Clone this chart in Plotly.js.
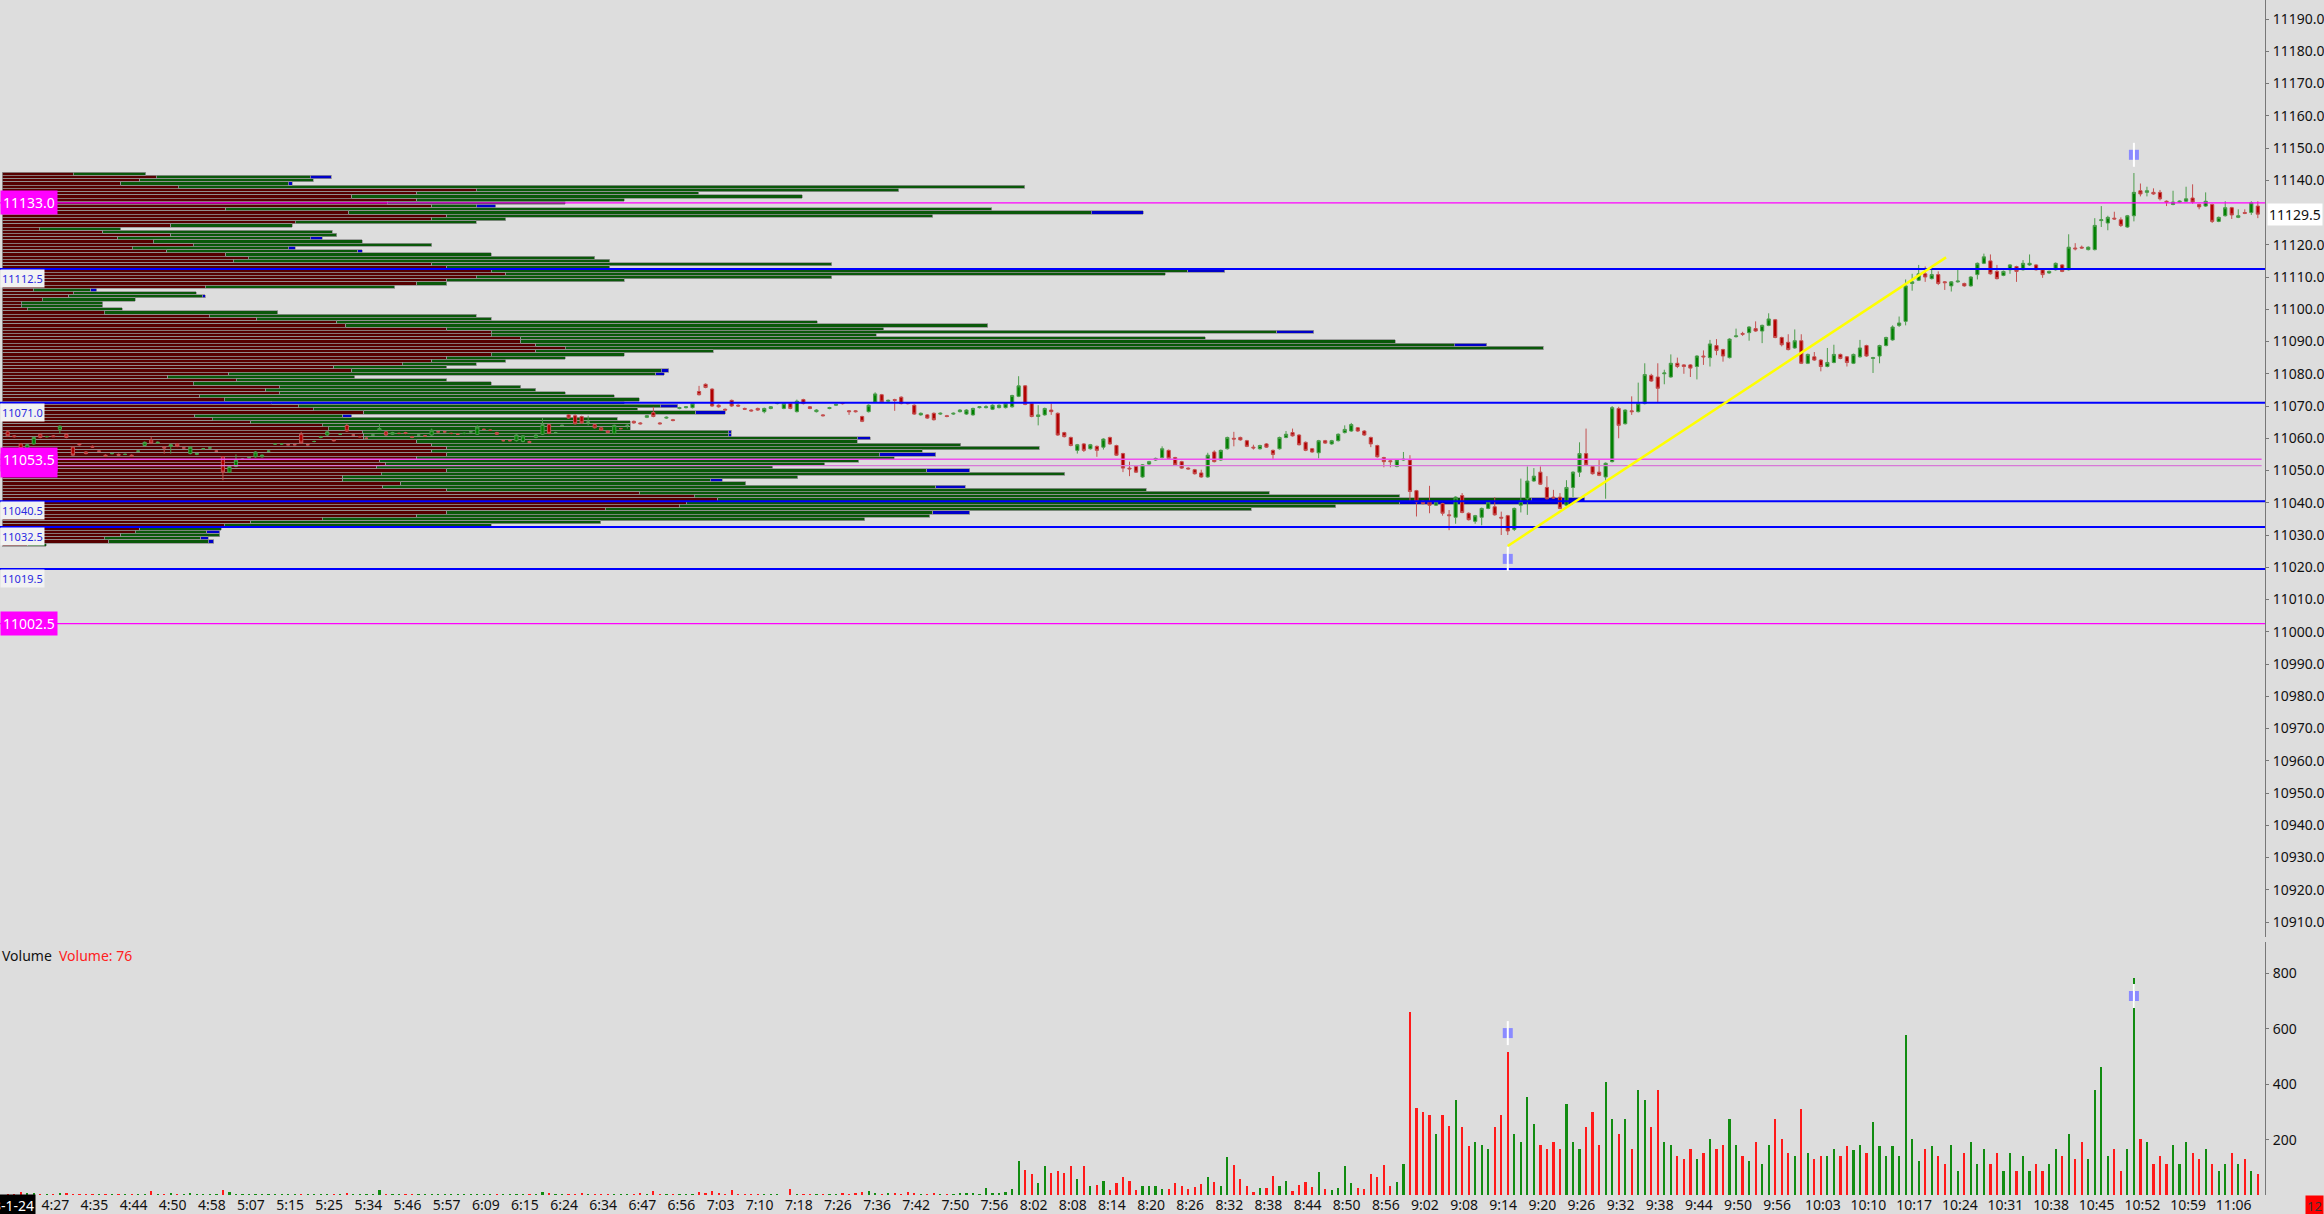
<!DOCTYPE html>
<html><head><meta charset="utf-8">
<script src="https://cdn.plot.ly/plotly-3.0.1.min.js"></script>
<style>html,body{margin:0;padding:0;background:#DDDDDD;}#chart{width:2324px;height:1214px;}</style>
</head><body><div id="chart"></div>
<script>
const barOpen = [
11062,11060.75,11058.25,11056.75,11058.25,11061.25,11060.5,11060.75,11062.75,11061.25,
11057.25,11058.25,11055.75,11057.5,11056,11054.75,11055.25,11055,11055,11054.75,
11056,11057.75,11059.5,11058.5,11057.25,11057.5,11058.25,11057,11055.25,11055,
11056.75,11057,11056,11054.25,11049.5,11051.25,11053.5,11054,11054.25,11054.25,
11056,11058.25,11058.25,11058,11058,11061.25,11058,11059,11060.25,11061,
11059.5,11061.25,11064,11061,11060.5,11060,11061,11062.5,11062,11061.25,
11061.5,11061.75,11060.5,11061,11060.75,11061,11062,11062,11061.5,11061.25,
11061.5,11062,11061.25,11062.75,11062.5,11061.75,11059.25,11059.25,11059.25,11059,
11059,11060.25,11061.25,11064.25,11061.75,11064,11067.25,11067,11066.75,11065,
11064.25,11063.25,11062.25,11061.5,11063,11064,11065.25,11064.75,11066.5,11068,
11064.75,11066.25,11065.75,11069.25,11069.5,11069.5,11074.5,11076.75,11075.25,11070.25,
11069,11071.75,11070.25,11069.25,11068.75,11069.25,11068.25,11069.25,11070.75,11069.25,
11070.75,11068.25,11072,11069.75,11068.25,11067.25,11069.25,11070.25,11071,11068.5,
11068.5,11066.75,11068.25,11071.25,11073.5,11071.5,11072,11072.75,11071,11070.25,
11067.25,11067.25,11067.75,11067.5,11067,11067.5,11068.25,11067.5,11067.25,11069.5,
11069.5,11069,11069.5,11069.5,11069.75,11073,11076.25,11070.75,11066.75,11067.25,
11068.75,11067.75,11061.75,11060.25,11056.25,11058.25,11056.75,11057.5,11057.25,11060.25,
11057.75,11055.25,11050.75,11051.25,11048,11052,11053.25,11054,11056.25,11054,
11052.75,11050.75,11050.25,11049.25,11048,11055.75,11053.25,11056.75,11060,11060.25,
11059.25,11057.25,11056.75,11058.25,11056.25,11056.75,11060.25,11061.75,11061,11058.75,
11056.75,11055.5,11059.25,11058.25,11059.25,11061.75,11062.25,11063.25,11062.25,11060.25,
11057.75,11054,11053,11051.25,11053.25,11053.25,11043.75,11040.5,11040.25,11039.25,
11039.75,11036.25,11035.5,11042.25,11036.75,11034.25,11035.5,11038.25,11038.75,11035.5,
11036,11031.75,11039.25,11041.25,11046.75,11049.5,11044.75,11041.75,11041.75,11039.25,
11044.75,11049.5,11055.25,11051.25,11049.5,11048,11052.75,11069.25,11064.5,11068.5,
11068.25,11070.75,11079.5,11079,11080,11079,11083.25,11082.75,11082.75,11082.25,
11085.5,11085,11088.75,11087.5,11085,11091.5,11092.5,11092.75,11094,11093.25,
11095,11096.75,11091.25,11089.75,11088,11090.25,11083.25,11085.25,11084.25,11082.25,
11083.5,11086,11085.25,11083.25,11085.25,11088.75,11084.75,11085.5,11088.75,11090.5,
11095,11096.25,11108,11109,11111,11109.5,11110.75,11108.5,11107.25,11108.5,
11108,11107.25,11110.75,11114.25,11115,11111.75,11110.5,11112.25,11113.25,11112.25,
11113.75,11113.75,11112.25,11111.25,11112.25,11113.75,11112.25,11119,11119.25,11118.5,
11118.5,11127.5,11126.75,11128.25,11127.75,11125.5,11129,11136.75,11136.25,11136.25,
11136.25,11133.5,11132.5,11133.25,11133.5,11134.5,11132.5,11132,11132.5,11127.25,
11129,11131.5,11128.5,11130,11130,11132];
const barHigh = [
11062.5,11061,11058.5,11058.25,11060.5,11061.5,11060.75,11061,11064,11061.5,
11057.5,11058.5,11056,11057.75,11056.25,11055,11055.5,11055.25,11055.25,11055,
11056.25,11059,11060.5,11059,11057.5,11058.25,11058.5,11057.25,11057.5,11055.5,
11057,11057.25,11056.25,11054.5,11051.5,11055,11053.75,11054.25,11056,11055,
11056.25,11058.5,11058.5,11058.25,11058.25,11062,11058.25,11059.25,11060.75,11062.25,
11059.75,11061.5,11064.5,11061.25,11060.75,11060.25,11061.25,11064.5,11062.25,11062,
11061.75,11062,11060.75,11061.25,11061,11063,11062.25,11062.25,11061.75,11061.5,
11061.75,11062.25,11064,11063,11062.75,11062,11059.5,11059.5,11061.25,11061,
11059.25,11061.25,11066.25,11064.5,11062,11064.25,11067.5,11067.5,11067,11067,
11064.5,11063.5,11062.5,11064.25,11063.25,11064.5,11065.5,11065,11067.25,11069.75,
11065,11066.75,11066,11069.75,11070,11071,11076.25,11077,11075.5,11070.5,
11069.25,11072,11070.5,11069.5,11069,11069.5,11069.5,11070,11071.25,11071,
11071,11072,11072.25,11070,11069,11067.5,11069.75,11070.75,11071.25,11068.75,
11068.75,11067,11070.5,11074.25,11073.75,11072,11072.25,11073,11071.25,11070.5,
11068,11067.5,11068,11068,11067.25,11068,11069,11069,11069.5,11070,
11070.25,11070.5,11070.5,11071,11073.5,11079.25,11076.5,11071,11070.25,11069.5,
11070.75,11068,11062,11060.5,11058.25,11058.5,11058.25,11057.75,11060,11060.5,
11058,11055.5,11052.75,11051.5,11052,11053,11054,11057.5,11056.5,11054.25,
11053,11051,11050.5,11050.25,11055.5,11056.25,11056.5,11060.5,11062,11060.5,
11059.5,11058,11058,11058.5,11056.5,11060.5,11062.25,11063,11061.25,11059,
11057,11059.5,11059.5,11059.5,11061.5,11064,11064.75,11063.5,11062.5,11060.5,
11058,11054.25,11053.25,11053.5,11055.75,11054.75,11044,11040.75,11045.25,11040.5,
11040,11037.75,11042,11043,11037,11036.25,11038.5,11040.5,11041.75,11037.25,
11036.25,11038.5,11047.5,11051.25,11050.75,11051.25,11048.25,11044,11043,11047,
11049.75,11058.75,11063,11051.5,11053.25,11052.5,11070,11069.75,11069,11073,
11077.25,11083.25,11080,11083.25,11081.25,11086,11085,11083,11083,11085.75,
11087.25,11090.5,11090.75,11087.75,11091,11094,11093,11094.75,11096.25,11095.25,
11098.75,11097,11091.5,11092.25,11093.75,11092.25,11086.25,11086.75,11084.5,11088,
11089,11086.25,11085.5,11086.25,11090.5,11089,11085.25,11089,11091.5,11095,
11097.75,11109.25,11111,11113.75,11113.25,11112.75,11111.75,11108.75,11108.75,11112.25,
11108.25,11110.25,11114.5,11117.25,11117,11113.75,11112,11114,11113.5,11115.25,
11117,11114,11112.5,11112,11114.5,11114,11123.25,11120.5,11119.75,11119.5,
11128.25,11132,11129,11130.25,11128.5,11129.25,11142.25,11139,11138,11137.5,
11137,11133.75,11136.75,11133.75,11138,11138.75,11132.75,11136.25,11132.75,11128.75,
11133.5,11131.75,11131,11131,11133.5,11133.5];
const barLow = [
11060.5,11060.25,11056.5,11056.5,11058,11060,11060.25,11060.5,11061.5,11060,
11054.5,11057.75,11055,11057,11055.75,11054.25,11055,11054.5,11054.75,11054.25,
11055.75,11057.5,11058.25,11058.25,11055.25,11055.25,11057.25,11056.75,11055,11054.75,
11056.5,11056.75,11055.75,11047,11049.25,11051,11053.25,11053.75,11054,11054,
11055.75,11058,11058,11057.75,11057.75,11058.25,11057.75,11058.75,11060,11060.75,
11059,11061,11062,11060.75,11060.25,11059.75,11060.75,11062.25,11060.75,11061,
11061.25,11061.25,11060,11060.75,11060.5,11060.75,11061.75,11061.75,11061.25,11061,
11061.25,11061.75,11061,11062.5,11062.25,11061,11059,11059,11059,11058.75,
11058.5,11060,11061,11061.25,11061.5,11063.75,11066,11064.25,11064.5,11064,
11063,11062.25,11061.5,11061.25,11062.75,11063,11064.5,11064.25,11066.25,11066.5,
11064.25,11066,11065.25,11069,11069.25,11069.25,11073.25,11075.5,11069.75,11069.5,
11068.5,11069.75,11069.75,11068.75,11068.25,11068.5,11067.75,11069,11070.5,11069,
11069,11068,11070.5,11069,11068,11066.75,11069,11070,11070.5,11067.25,
11068,11065,11068,11071,11071,11071.25,11068.5,11070.5,11070.5,11067.25,
11067,11066,11065.5,11067.25,11066.5,11067.25,11068,11067.25,11067,11069.25,
11069.25,11068.75,11069.25,11069.25,11069.5,11072.75,11070.25,11066.5,11064,11067,
11067.25,11060.75,11060.25,11057.5,11055.25,11055.75,11056.5,11054.25,11056.5,11058,
11054.5,11049.5,11048.25,11049.25,11047.75,11051.75,11053,11053.75,11053.5,11051.5,
11050.5,11050.25,11048.75,11047.75,11047.75,11052.5,11053,11056.5,11057.5,11059.25,
11057.25,11056.5,11056.5,11057,11053.25,11056.5,11060,11060.5,11057.75,11056,
11055.5,11053.75,11058.25,11058,11059,11061.5,11062,11062,11060.75,11057.25,
11054,11051,11051,11051,11053,11040.25,11035.75,11039.5,11036.75,11039,
11036,11031.5,11033.5,11036.75,11034.5,11033.5,11033,11038,11036,11030,
11030,11031.25,11037,11036.25,11046.5,11045.5,11041,11041.25,11038,11039,
11041.75,11048,11051.5,11048.75,11048.25,11041.25,11052.5,11060,11064.25,11067.25,
11068,11070.5,11077.5,11071.25,11076.75,11078.75,11081.75,11080,11079,11078.25,
11082.75,11082.25,11085.75,11083.75,11084.75,11091.25,11091.75,11090.25,11093,11089.5,
11094.75,11091,11088.5,11087.25,11087.75,11083,11083,11084,11080.75,11082,
11083.25,11084.5,11082.25,11083,11085,11085.25,11080.25,11083.25,11088.5,11090.25,
11094.5,11095,11105.75,11108.75,11108.5,11109.25,11107.5,11106,11105.5,11108.25,
11107,11107,11109.25,11114,11110.75,11109.25,11110.25,11111,11108.5,11112,
11113.5,11112,11109.75,11111,11112,11111.5,11112,11118.25,11118.75,11118.25,
11118.25,11125.5,11124.5,11127.75,11125.5,11125.25,11127.25,11135,11135,11135.5,
11133.75,11132,11132.25,11133,11133.25,11132.75,11131,11131.75,11126.75,11127,
11128.75,11128,11128.25,11129.5,11129.25,11128.25];
const barClose = [
11060.75,11060.5,11056.75,11058,11060.25,11060.25,11060.5,11060.5,11063.75,11060.25,
11054.75,11058,11055.25,11057.25,11056,11054.5,11055.25,11054.75,11055,11054.5,
11056,11058.75,11058.5,11058.75,11057,11058,11057.5,11057,11057.25,11055.25,
11056.75,11057,11056,11049.5,11051.25,11053.25,11053.5,11054,11055.75,11054.75,
11056,11058.25,11058.25,11058,11058,11058.5,11058,11059,11060.5,11062,
11059.25,11061.25,11062.25,11061,11060.5,11060,11061,11063,11061,11061.75,
11061.5,11061.5,11060.25,11061,11060.75,11062.5,11062,11062,11061.5,11061.25,
11061.5,11062,11063.5,11062.75,11062.5,11061.25,11059.25,11059.25,11061,11060.75,
11058.75,11061,11064.25,11061.5,11061.75,11064,11066.25,11064.5,11064.75,11065,
11063.25,11062.5,11061.75,11064,11063,11064,11064.75,11064.5,11067,11066.75,
11064.5,11066.5,11065.5,11069.5,11069.75,11070.75,11073.5,11075.75,11070,11069.75,
11068.75,11070,11070,11069,11068.5,11068.75,11069.25,11069.75,11071,11070.75,
11069.25,11071.5,11070.75,11069.25,11068.75,11067,11069.5,11070.5,11070.75,11068.25,
11068.25,11065.25,11070.25,11073.75,11071.25,11071.75,11071.75,11070.75,11070.75,11067.5,
11067.75,11066.25,11065.75,11067.75,11066.75,11067.75,11068.75,11068.75,11069.25,11069.75,
11069.75,11070.25,11070.25,11070.75,11073.25,11076.25,11070.5,11066.75,11067.25,11069.25,
11068.25,11061,11060.5,11057.75,11058,11056.25,11058,11056.25,11059.75,11058.25,
11054.75,11050.75,11050.5,11049.5,11051.75,11052.75,11053.75,11056.75,11053.75,11051.75,
11050.75,11050.5,11049,11048,11054.75,11052.75,11056.25,11060.25,11059.75,11059.5,
11057.5,11057,11057.75,11057.25,11055,11060.25,11061.25,11060.75,11058,11056.25,
11055.75,11059.25,11058.5,11059.25,11061.25,11062.75,11064.25,11062.25,11061,11058.25,
11054.25,11052.75,11052.75,11053.25,11053.5,11043.5,11040.25,11039.75,11039.25,11040.25,
11036.75,11036,11041.75,11037,11034.75,11036,11038.25,11040.25,11036.25,11035.25,
11031.25,11038.25,11040.5,11046.75,11048.25,11045.75,11041.25,11041.5,11038.25,11044.75,
11049.5,11055.25,11051.75,11049,11048.5,11052.25,11069.5,11064,11068.75,11068.25,
11070.75,11079.75,11077.75,11075.5,11080.25,11083.25,11082.25,11082.25,11081.75,11085.5,
11085.25,11089.25,11087.25,11085.5,11090.75,11091.75,11092.25,11094.5,11093.25,11095,
11097,11091.25,11089,11087.5,11090.25,11083.25,11086,11084.25,11082.25,11083.5,
11086,11084.75,11083.5,11086,11088,11085.5,11085,11088.75,11091.25,11094.5,
11095.75,11107.25,11108.5,11111,11110,11110.75,11108,11108.25,11108.5,11108.75,
11107.25,11110,11114.25,11116.25,11111,11109.5,11111.75,11113.75,11111.75,11114.25,
11114.25,11112.25,11110.75,11111.75,11114.25,11111.75,11119.25,11118.75,11119,11119.25,
11126,11127.75,11128.5,11128,11126,11129,11136.25,11135.75,11136.75,11135.75,
11134.25,11133.25,11133.25,11133.5,11134.25,11133.25,11131.75,11133.5,11127.25,11128.5,
11131.5,11129.25,11129,11129.75,11133,11129.5];
const barVolume = [
4,4,12,6,6,4,4,4,8,6, 4,3,3,3,3,3,4,4,3,4,
4,4,14,4,3,6,4,3,8,4, 4,3,4,18,11,4,4,3,3,4,
3,4,4,3,4,5,3,4,3,4, 4,3,6,4,4,4,3,18,5,4,
3,4,4,3,4,5,3,4,3,4, 4,3,5,4,3,5,4,4,3,4,
4,4,11,6,4,3,5,4,6,4, 4,5,3,4,4,3,4,6,4,14,
4,3,4,4,5,4,11,6,14,6, 4,18,4,5,4,4,3,4,
4,1,22,4,4,4,4,4,4,4, 6,4,6,12,16,6,4,7,6,4, 12,6,4,4,6,4,4,4,6,6, 6,4,24,8,6,10,22,
124,92,76,42,104,78,88,78,106,58, 104,34,36,52,18,43,66,52,19,34, 31,31,22,22,43,34,22,30,39,64,
48,34,136,108,58,31,12,25,24,70, 34,52,16,37,48,30,82,22,19,24, 104,43,24,22,76,64,109,34,48,112,
660,316,300,290,220,290,250,343,247,177, 193,182,166,247,290,515,220,193,354,257,
182,166,193,166,327,193,166,247,300,182, 407,273,220,273,166,380,343,247,380,193,
182,140,129,166,129,150,204,166,182,273, 182,140,123,193,113,182,273,204,150,140,
311,150,129,140,140,166,140,177,161,182, 150,263,177,140,177,140,579,204,123,166,
177,140,113,182,86,150,193,113,166,113, 150,86,150,86,140,86,113,86,113,166,
140,220,129,193,129,380,461,140,166,86, 166,783,204,193,113,140,113,182,113,193,
150,129,166,113,86,113,150,113,129,86, 76];
const dateLabel = '2023-1-24';
const timeLabels = ['4:27','4:35','4:44','4:50','4:58','5:07','5:15','5:25','5:34','5:46','5:57','6:09','6:15','6:24','6:34','6:47','6:56','7:03','7:10','7:18','7:26','7:36','7:42','7:50','7:56',
'8:02','8:08','8:14','8:20','8:26','8:32','8:38','8:44','8:50','8:56','9:02','9:08','9:14','9:20','9:26','9:32','9:38','9:44','9:50','9:56',
'10:03','10:10','10:17','10:24','10:31','10:38','10:45','10:52','10:59','11:06'];
const priceTicks = [10910,10920,10930,10940,10950,10960,10970,10980,10990,11000,11010,11020,11030,11040,11050,11060,11070,11080,11090,11100,11110,11120,11140,11150,11160,11170,11180,11190];
const volumeTicks = [200,400,600,800];
const lastPrice = 11129.5;
const profilePrice = [11142,11141,11140,11139,11138,11137,11136,11135,11134,11133,11132,11131,11130,11129,11128,11127,11126,11125,11124,11123,
11122,11121,11120,11119,11118,11117,11116,11115,11114,11113,11112,11111,11110,11109,11108,11107,11106,11105,11104,11103,
11102,11101,11100,11099,11098,11097,11096,11095,11094,11093,11092,11091,11090,11089,11088,11087,11086,11085,11084,11083,
11082,11081,11080,11079,11078,11077,11076,11075,11074,11073,11072,11071,11070,11069,11068,11067,11066,11065,11064,11063,
11062,11061,11060,11059,11058,11057,11056,11055,11054,11053,11052,11051,11050,11049,11048,11047,11046,11045,11044,11043,
11042,11041,11040,11039,11038,11037,11036,11035,11034,11033,11032,11031,11030,11029,11028,11027];
const profileSell = [48,104,93,80,119,320,280,236,280,260,290,151,234,300,290,198,114,25,68,114,
78,102,129,88,111,151,166,156,290,300,330,340,320,300,280,137,21,48,45,27,
13,13,17,69,140,172,226,232,300,330,330,350,350,360,380,360,330,300,290,270,
224,236,153,112,158,129,187,178,187,133,150,182,200,210,244,130,142,168,216,220,
243,244,244,280,290,300,290,300,280,255,259,253,300,256,230,230,269,257,300,430,
467,483,462,457,407,300,280,216,168,150,93,90,80,69,72,17];
const profileBuy = [49,104,117,113,571,285,190,304,140,120,30,517,501,328,50,122,82,55,155,112,
130,141,161,105,129,179,234,254,270,110,470,445,240,120,20,128,39,83,90,63,
55,55,64,117,180,158,324,433,295,530,260,462,590,620,660,120,90,80,50,50,
76,209,288,126,142,201,163,182,193,280,280,238,244,219,224,100,273,256,208,204,
247,246,333,297,357,400,331,292,322,323,296,267,324,461,307,248,233,373,472,425,
476,549,481,443,436,328,346,366,236,180,55,48,67,65,67,13];
const profileOther = [0,14,0,3,0,0,0,0,0,0,13,0,35,0,0,0,0,0,0,0,
8,0,0,5,3,0,0,0,0,0,25,0,0,0,0,0,4,0,2,0,
0,0,0,0,0,0,0,0,0,25,0,0,0,22,0,0,0,0,0,0,
0,5,6,0,0,0,0,0,0,0,0,0,12,0,20,6,0,0,0,0,
2,2,9,0,0,0,0,38,0,0,0,0,29,0,0,8,0,20,0,0,
0,36,117,0,0,25,0,0,0,0,0,9,0,5,4,0];
const levelPrice = [11133.0,11112.5,11071.0,11053.5,11051.5,11040.5,11032.5,11019.5,11002.5];
const levelStyle = ['magenta','blue','blue','pink','pink2','blue','blue','blue','magenta'];
const trendBar = [230, 297.2];
const trendPrice = [11026.6, 11116.1];
const signalBar = [230, 326];
const signalPrice = [11022.6, 11147.9];
const signalVolume = [585, 719];

// ---- build ----
const idx = barOpen.map((_, i) => i);
const X0 = -1.18, X1 = 346.1;
function tickPos(lbl, j){
  const p = lbl.split(':'); const m = (+p[0])*60 + (+p[1]);
  if (m >= 482) return 157.3 + (m - 482);
  return 1.3 + 6*(j+1);
}
const tickvals = timeLabels.map((l,j)=>tickPos(l,j));
const nz = a => a.map(v => v>0 ? v : null);
const rowLine = {color:'#949494', width:0.8};

const traces = [
 {type:'bar', orientation:'h', y:profilePrice, x:nz(profileSell), xaxis:'x', yaxis:'y', marker:{color:'#560000', line:rowLine}, hoverinfo:'skip'},
 {type:'bar', orientation:'h', y:profilePrice, x:nz(profileBuy), xaxis:'x', yaxis:'y', marker:{color:'#0a580a', line:rowLine}, hoverinfo:'skip'},
 {type:'bar', orientation:'h', y:profilePrice, x:nz(profileOther), xaxis:'x', yaxis:'y', marker:{color:'#0000c8', line:rowLine}, hoverinfo:'skip'},
 {type:'candlestick', x:idx, open:barOpen, high:barHigh, low:barLow, close:barClose, xaxis:'x2', yaxis:'y',
  increasing:{line:{color:'#4d9d4d', width:1}, fillcolor:'#008000'},
  decreasing:{line:{color:'#c45050', width:1}, fillcolor:'#b00000'},
  whiskerwidth:0, hoverinfo:'skip'},
 {type:'bar', x:idx, y:barVolume, xaxis:'x3', yaxis:'y2', width:0.34,
  marker:{color: idx.map(i => barClose[i] < barOpen[i] ? '#ff1a1a' : '#118c11')}, hoverinfo:'skip'}
];

const shapes = [];
const annotations = [];
const lvlColor = {magenta:'#ff00ff', blue:'#0000ff', pink:'#ee50ee', pink2:'#d878d8'};
levelPrice.forEach((p, i) => {
  const s = levelStyle[i];
  shapes.push({type:'line', xref:'paper', yref:'y', x0:0, x1:(s.startsWith('pink')?0.9985:1), y0:p, y1:p,
    line:{color:lvlColor[s], width:(s==='blue'?2:1.3)}, layer:'above'});
});
const labelOrder = [4,0,3,8,1,2,5,6,7];
labelOrder.forEach(i => {
  const p = levelPrice[i], s = levelStyle[i];
  if (s === 'blue') {
    annotations.push({xref:'paper', yref:'y', x:0, y:p, xanchor:'left', yanchor:'top', text:p.toFixed(1), showarrow:false,
      font:{size:11, color:'#2a2ae0', family:'Noto Sans'}, bgcolor:'#f2f2f2', borderpad:1});
  } else {
    annotations.push({xref:'paper', yref:'y', x:0, y:p, xanchor:'left', yanchor:'middle', text:p.toFixed(1), showarrow:false,
      font:{size:14, color:'#ffffff', family:'Noto Sans'}, bgcolor:'#ff00ff', borderpad:2});
  }
});
shapes.push({type:'line', xref:'x2', yref:'y', x0:trendBar[0], y0:trendPrice[0], x1:trendBar[1], y1:trendPrice[1], line:{color:'#ffff00', width:2.5}, layer:'above'});
const pxBar = 2265/(X1-X0), pxPrice = 3.225, pxVol = 0.2767;
signalBar.forEach((b, i) => {
  [[signalPrice[i], pxPrice, 'x2', 'y'], [signalVolume[i], pxVol, 'x3', 'y2']].forEach(([v, s, xr, yr]) => {
    shapes.push({type:'rect', xref:xr, yref:yr, x0:b-5/pxBar, x1:b+5/pxBar, y0:v-5/s, y1:v+5/s, fillcolor:'#8a8aff', line:{width:0}, layer:'above'});
    shapes.push({type:'line', xref:xr, yref:yr, x0:b, x1:b, y0:v-12/s, y1:v+12/s, line:{color:'#ffffff', width:2}, layer:'above'});
  });
});
annotations.push({xref:'paper', yref:'y2', x:0, y:867, xanchor:'left', yanchor:'middle', text:'Volume', showarrow:false, font:{size:14, color:'#111'}});
annotations.push({xref:'paper', yref:'y2', x:57/2265, y:867, xanchor:'left', yanchor:'middle', text:'Volume: ' + barVolume[barVolume.length-1], showarrow:false, font:{size:14, color:'#ff2020'}});
annotations.push({xref:'paper', yref:'y', x:1, y:lastPrice, xanchor:'left', yanchor:'middle', xshift:2, text:lastPrice.toFixed(1), showarrow:false, font:{size:14, color:'#111'}, bgcolor:'#ffffff', borderpad:1});
annotations.push({xref:'paper', yref:'paper', x:36/2265, y:-0.0092, xanchor:'right', yanchor:'middle', text:dateLabel, showarrow:false, font:{size:14, color:'#ffffff'}, bgcolor:'#000000', borderpad:1});
annotations.push({xref:'paper', yref:'paper', x:1, y:-0.0092, xanchor:'left', yanchor:'middle', xshift:40, text:'12', showarrow:false, font:{size:13, color:'#333'}, bgcolor:'#ff0000', borderpad:1});

const layout = {
  width:2324, height:1214,
  margin:{l:0, r:59, t:0, b:19, pad:0},
  paper_bgcolor:'#dddddd', plot_bgcolor:'#dddddd',
  showlegend:false, barmode:'stack', bargap:0,
  font:{family:'Noto Sans, sans-serif', size:14, color:'#111'},
  xaxis:{domain:[0,1], anchor:'y', range:[-1.35, 1527], visible:false, fixedrange:true},
  xaxis2:{overlaying:'x', anchor:'y', range:[X0, X1], visible:false, rangeslider:{visible:false}},
  xaxis3:{domain:[0,1], anchor:'y2', range:[X0, X1], tickmode:'array', tickvals:tickvals, ticktext:timeLabels,
    ticks:'', showgrid:false, zeroline:false, showline:false, tickfont:{size:14, color:'#111'}, rangeslider:{visible:false}},
  yaxis:{domain:[0.2159,1], anchor:'x', side:'right', range:[10905.35, 11195.9], tickmode:'array', tickvals:priceTicks,
    ticktext:priceTicks.map(v=>v.toFixed(1)), ticks:'outside', ticklen:3, tickcolor:'#777', showline:true, linecolor:'#777', linewidth:1,
    ticklabelstandoff:1, showgrid:false, zeroline:false, tickfont:{size:14, color:'#111'}},
  yaxis2:{domain:[0,0.2117], anchor:'x3', side:'right', range:[0,914], tickmode:'array', tickvals:volumeTicks,
    ticktext:volumeTicks.map(String), ticks:'outside', ticklen:3, tickcolor:'#777', showline:true, linecolor:'#777', linewidth:1,
    ticklabelstandoff:1, showgrid:false, zeroline:false, tickfont:{size:14, color:'#111'}},
  shapes:shapes, annotations:annotations
};
Plotly.newPlot('chart', traces, layout, {staticPlot:true, displayModeBar:false});
</script></body></html>
